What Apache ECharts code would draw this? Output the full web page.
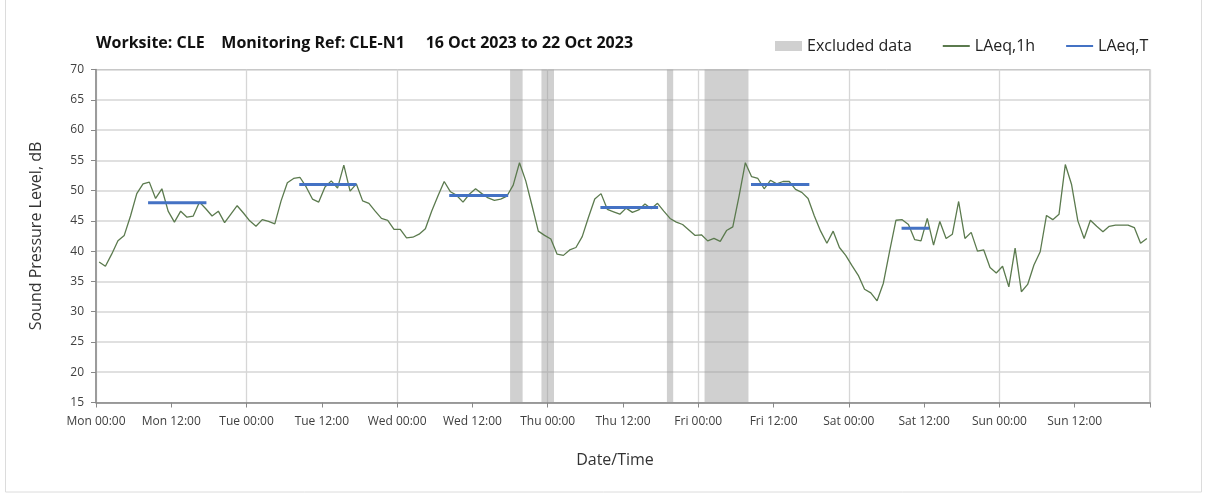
<!DOCTYPE html>
<html>
<head>
<meta charset="utf-8">
<script src="https://cdn.jsdelivr.net/npm/echarts@6/dist/echarts.min.js"></script>
<style>
  html, body { margin: 0; padding: 0; background: #fff; }
  #chart { width: 1208px; height: 496px; }
</style>
</head>
<body>
<div id="chart"></div>
<script>
// hours from Mon 00:00, hourly values plotted at mid-hour
var tickLabels = ['Mon 00:00', 'Mon 12:00', 'Tue 00:00', 'Tue 12:00', 'Wed 00:00', 'Wed 12:00',
    'Thu 00:00', 'Thu 12:00', 'Fri 00:00', 'Fri 12:00', 'Sat 00:00', 'Sat 12:00', 'Sun 00:00', 'Sun 12:00', ''];

var laeq1h = [
    38.2, 37.5, 39.5, 41.7, 42.6, 45.8, 49.5, 51.1, 51.4, 48.7, 50.3, 46.6,
    44.8, 46.6, 45.6, 45.8, 48.1, 47.0, 45.8, 46.6, 44.7, 46.1, 47.5, 46.3,
    45.0, 44.1, 45.2, 44.9, 44.5, 48.3, 51.3, 52.0, 52.2, 50.6, 48.6, 48.1,
    50.6, 51.6, 50.4, 54.2, 49.9, 51.1, 48.3, 47.9, 46.6, 45.4, 45.1, 43.6,
    43.6, 42.2, 42.3, 42.8, 43.7, 46.6, 49.1, 51.5, 49.8, 49.2, 48.1, 49.4,
    50.3, 49.5, 48.8, 48.4, 48.6, 49.1, 50.9, 54.6, 51.6, 47.5, 43.3, 42.6,
    42.0, 39.5, 39.3, 40.2, 40.6, 42.4, 45.6, 48.6, 49.5, 46.9, 46.5, 46.1,
    47.1, 46.4, 46.8, 47.8, 47.0, 47.9, 46.6, 45.4, 44.8, 44.4, 43.5, 42.6,
    42.7, 41.7, 42.1, 41.6, 43.4, 44.0, 49.1, 54.6, 52.3, 52.0, 50.3, 51.7,
    51.1, 51.5, 51.5, 50.2, 49.7, 48.7, 45.8, 43.3, 41.3, 43.3, 40.6, 39.3,
    37.6, 36.0, 33.7, 33.1, 31.8, 34.7, 40.0, 45.1, 45.2, 44.4, 41.9, 41.7,
    45.4, 41.0, 44.9, 42.1, 42.8, 48.2, 42.1, 43.1, 40.0, 40.2, 37.3, 36.4,
    37.5, 34.1, 40.5, 33.3, 34.5, 37.7, 39.9, 45.9, 45.2, 46.1, 54.3, 51.0,
    45.0, 42.1, 45.1, 44.1, 43.2, 44.1, 44.3, 44.3, 44.3, 43.9, 41.3, 42.1
];

// LAeq,T periods (hours from Mon 00:00)
var periodStart = [8.3, 32.4, 56.3, 80.4, 104.4, 128.4];
var periodEnd   = [17.6, 41.5, 65.7, 89.6, 113.7, 132.8];
var periodValue = [48.0, 51.0, 49.2, 47.2, 51.0, 43.8];

// excluded periods (hours from Mon 00:00)
var excludedStart = [66, 71, 91, 97];
var excludedEnd   = [68, 73, 92, 104];

var lineData = [];
for (var i = 0; i < laeq1h.length; i++) {
    lineData.push([i + 0.5, laeq1h[i]]);
}

var periodData = [];
for (var j = 0; j < periodValue.length; j++) {
    if (j > 0) periodData.push([(periodEnd[j - 1] + periodStart[j]) / 2, '-']);
    periodData.push([periodStart[j], periodValue[j]]);
    periodData.push([periodEnd[j], periodValue[j]]);
}

var excludedAreas = [];
for (var k = 0; k < excludedStart.length; k++) {
    excludedAreas.push([{ xAxis: excludedStart[k] }, { xAxis: excludedEnd[k] }]);
}

var fontFamily = '"Open Sans", "DejaVu Sans", sans-serif';

var chart = echarts.init(document.getElementById('chart'));
chart.setOption({
    backgroundColor: '#fff',
    animation: false,
    title: {
        text: 'Worksite: CLE    Monitoring Ref: CLE-N1     16 Oct 2023 to 22 Oct 2023',
        left: 91,
        top: 30,
        textStyle: { fontFamily: fontFamily, fontSize: 16, fontWeight: 'bold', color: '#111' }
    },
    legend: {
        left: 770,
        top: 33,
        itemWidth: 27,
        itemHeight: 10,
        itemGap: 30,
        textStyle: { fontFamily: fontFamily, fontSize: 16, color: '#222' },
        data: [
            { name: 'Excluded data', icon: 'rect' },
            { name: 'LAeq,1h', itemStyle: { opacity: 0 } },
            { name: 'LAeq,T', itemStyle: { opacity: 0 } }
        ]
    },
    grid: { left: 96, right: 58, top: 69.5, bottom: 93.5, show: true, borderColor: '#a0a0a0', borderWidth: 1 },
    xAxis: [{
        type: 'value',
        min: 0,
        max: 168,
        interval: 12,
        name: 'Date/Time',
        nameLocation: 'middle',
        nameGap: 50,
        nameTextStyle: { fontFamily: fontFamily, fontSize: 16, color: '#333', padding: [0, 16, 0, 0] },
        axisLine: { show: true, lineStyle: { color: '#888', width: 1.5 } },
        axisTick: { show: true, length: 5, lineStyle: { color: '#888' } },
        axisLabel: {
            fontFamily: fontFamily, fontSize: 12, color: '#404040', margin: 13,
            formatter: function (v) { return tickLabels[Math.round(v / 12)]; }
        },
        splitLine: { show: false }
    }, {
        type: 'value',
        min: 0,
        max: 168,
        interval: 24,
        position: 'bottom',
        axisLine: { show: false },
        axisTick: { show: false },
        axisLabel: { show: false },
        splitLine: { show: true, lineStyle: { color: '#d6d6d6', width: 1.3 } }
    }],
    yAxis: {
        type: 'value',
        min: 15,
        max: 70,
        interval: 5,
        name: 'Sound Pressure Level, dB',
        nameLocation: 'middle',
        nameGap: 52,
        nameTextStyle: { fontFamily: fontFamily, fontSize: 16, color: '#333' },
        axisLine: { show: true, lineStyle: { color: '#888', width: 1.5 } },
        axisTick: { show: true, length: 5, inside: false, lineStyle: { color: '#888' } },
        axisLabel: { fontFamily: fontFamily, fontSize: 12, color: '#404040', margin: 12 },
        splitLine: { show: true, lineStyle: { color: '#d6d6d6', width: 1.5 } }
    },
    series: [{
        name: 'Excluded data',
        type: 'bar',
        data: [],
        itemStyle: { color: '#d0d0d0' },
        markArea: {
            silent: true,
            itemStyle: { color: 'rgba(150,150,150,0.45)' },
            data: excludedAreas
        }
    }, {
        name: 'LAeq,1h',
        type: 'line',
        data: lineData,
        symbol: 'none',
        z: 3,
        lineStyle: { color: '#5b7a4e', width: 1.3 },
        itemStyle: { color: '#5b7a4e' }
    }, {
        name: 'LAeq,T',
        type: 'line',
        data: periodData,
        symbol: 'none',
        connectNulls: false,
        z: 4,
        lineStyle: { color: '#4472c4', width: 3 },
        itemStyle: { color: '#4472c4' }
    }],
    graphic: [{
        type: 'rect',
        shape: { x: 5.5, y: -2, width: 1196, height: 494 },
        style: { fill: 'none', stroke: '#dcdcdc', lineWidth: 1 },
        silent: true
    }]
});
</script>
</body>
</html>
